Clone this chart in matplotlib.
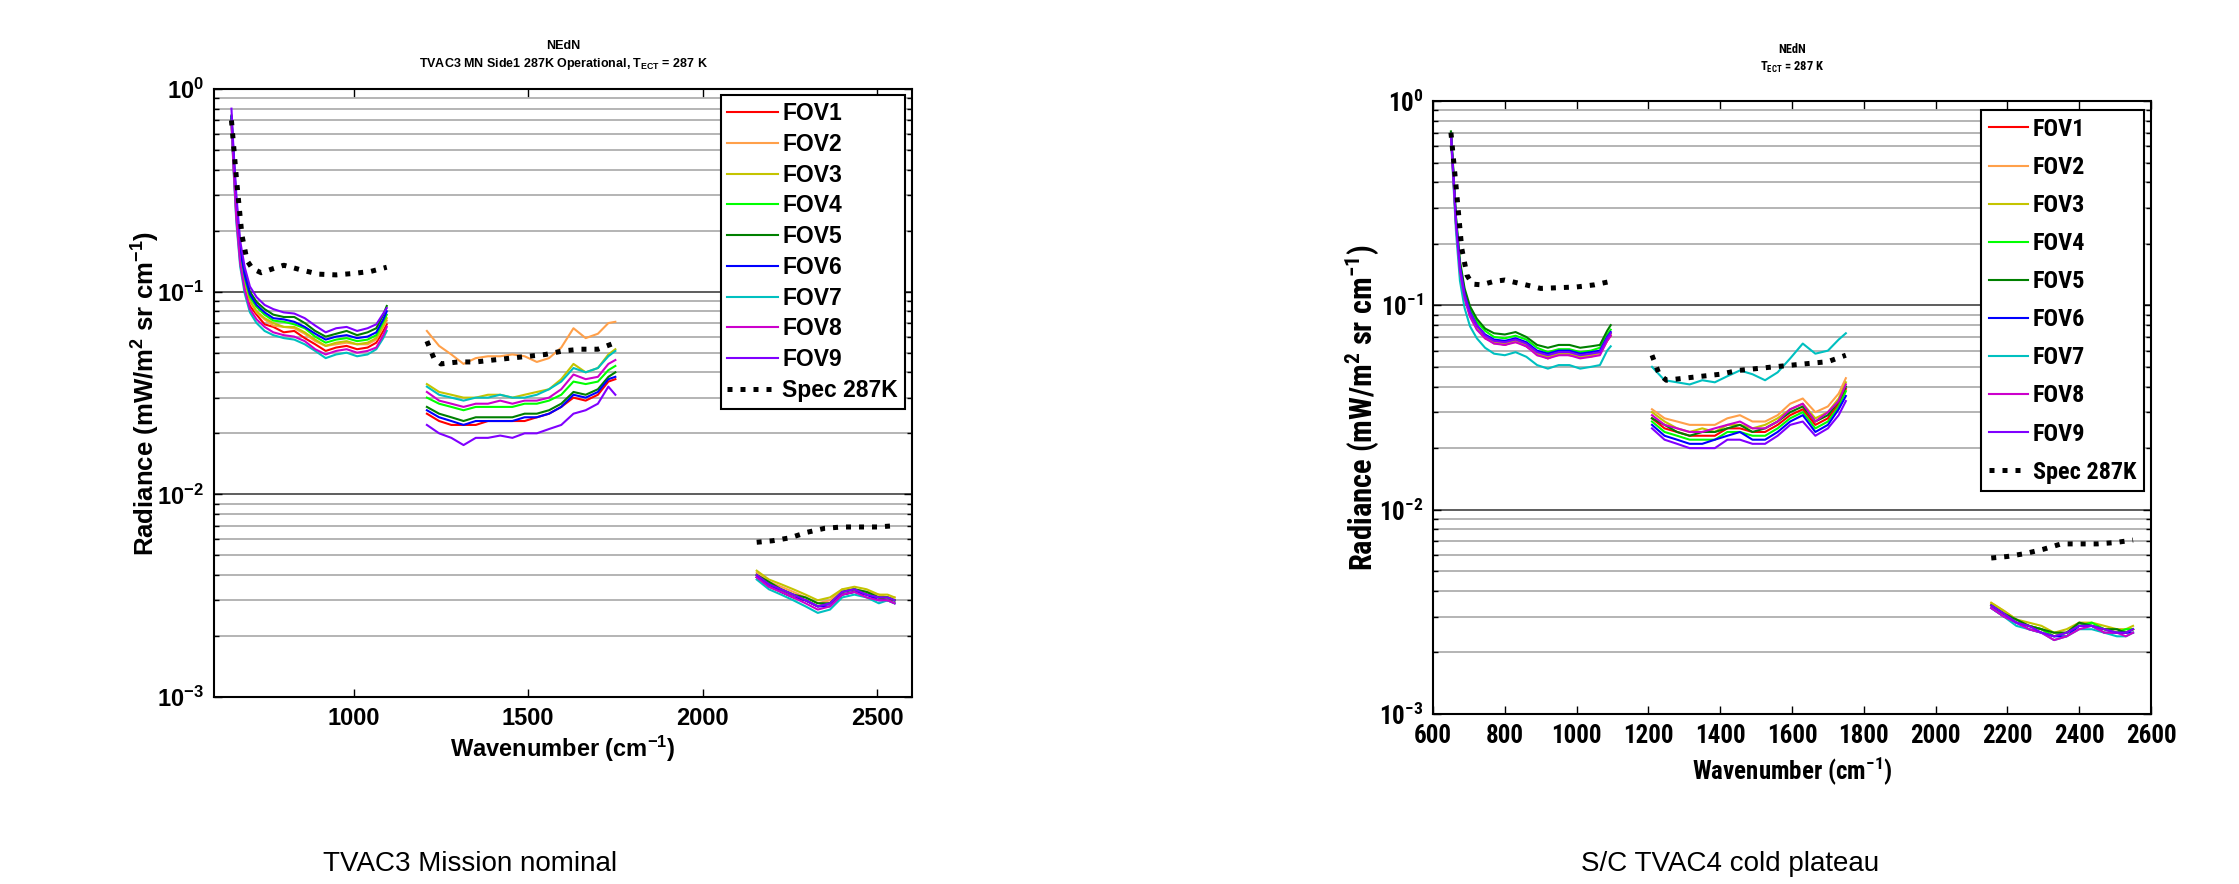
import numpy as np
import matplotlib
matplotlib.use('Agg')
import matplotlib.pyplot as plt
from matplotlib import font_manager as fm
from matplotlib.font_manager import FontProperties
from matplotlib.ticker import FixedLocator, FixedFormatter, NullFormatter, LogLocator

names = {f.name for f in fm.fontManager.ttflist}
WIDE = 'Liberation Sans' if 'Liberation Sans' in names else 'DejaVu Sans'


def find_condensed():
    prefs = ['Liberation Sans Narrow', 'Roboto Condensed', 'Open Sans Condensed',
             'DejaVu Sans Condensed', 'DejaVu Sans']
    best = None
    for f in fm.fontManager.ttflist:
        st = str(f.stretch)
        cond = ('Narrow' in f.name or 'Condensed' in f.name or 'condensed' in st)
        bold = (f.weight in ('bold', 'heavy', 'black') or
                (isinstance(f.weight, int) and f.weight >= 600))
        if cond and bold and f.style == 'normal':
            rank = prefs.index(f.name) if f.name in prefs else len(prefs)
            if best is None or rank < best[0]:
                best = (rank, f)
    return best[1] if best else None


COND = find_condensed()
plt.rcParams['mathtext.fontset'] = 'custom'
plt.rcParams['mathtext.rm'] = f'{WIDE}:bold'
plt.rcParams['mathtext.it'] = f'{WIDE}:bold'
plt.rcParams['mathtext.bf'] = f'{WIDE}:bold'
if COND is not None:
    try:
        st = str(COND.stretch)
        if st in ('normal', '500'):
            plt.rcParams['mathtext.sf'] = f'{COND.name}:bold'
        else:
            plt.rcParams['mathtext.sf'] = f'{COND.name}:bold:stretch={st}'
    except Exception:
        plt.rcParams['mathtext.sf'] = f'{WIDE}:bold'
else:
    plt.rcParams['mathtext.sf'] = f'{WIDE}:bold'


def fprop(narrow, size, weight='bold'):
    if narrow and COND is not None:
        return FontProperties(fname=COND.fname, size=size)
    return FontProperties(family=WIDE, weight=weight, size=size)


# ---------------- data ----------------
# wavenumber grids of the three bands (cm-1)
W1 = [650, 656, 664, 675, 688, 703, 722, 745, 770, 800, 830, 860, 890, 920, 950, 980, 1010, 1040, 1065, 1085, 1095]
W2 = [1210, 1245, 1280, 1315, 1350, 1385, 1420, 1455, 1490, 1525, 1560, 1595, 1630, 1665, 1700, 1730, 1750]
W3 = [2155, 2190, 2225, 2260, 2295, 2330, 2365, 2400, 2435, 2470, 2505, 2530, 2550]
# spec grids
SW1 = [650, 665, 680, 695, 710, 735, 770, 800, 850, 900, 950, 1000, 1050, 1095]
SW2 = [1210, 1230, 1250, 1300, 1350, 1400, 1450, 1500, 1550, 1600, 1650, 1700, 1750]
SW3 = [2155, 2200, 2250, 2300, 2350, 2400, 2450, 2500, 2550]

LABELS = ['FOV1', 'FOV2', 'FOV3', 'FOV4', 'FOV5', 'FOV6', 'FOV7', 'FOV8', 'FOV9', 'Spec 287K']
COLORS = ['#ff0000', '#ffa04a', '#c4c400', '#00ff00', '#008000', '#0000ff', '#00c0c0', '#cc00cc', '#8000ff']

# ---- left panel: TVAC3 Mission nominal ----
L_FOV1 = [0.70, 0.42, 0.24, 0.145, 0.106, 0.085, 0.077, 0.069, 0.067, 0.063, 0.064, 0.059, 0.055, 0.051, 0.053, 0.054, 0.052, 0.053, 0.056, 0.064, 0.069,
          0.025, 0.023, 0.022, 0.022, 0.022, 0.023, 0.023, 0.023, 0.023, 0.024, 0.025, 0.027, 0.030, 0.029, 0.031, 0.036, 0.037,
          0.0039, 0.0035, 0.0033, 0.0031, 0.0030, 0.0028, 0.0029, 0.0032, 0.0033, 0.0032, 0.0031, 0.0030, 0.0030]
L_FOV2 = [0.71, 0.44, 0.25, 0.150, 0.111, 0.090, 0.079, 0.073, 0.068, 0.067, 0.066, 0.062, 0.057, 0.054, 0.055, 0.056, 0.055, 0.055, 0.058, 0.067, 0.072,
          0.064, 0.054, 0.049, 0.044, 0.047, 0.048, 0.048, 0.049, 0.048, 0.045, 0.047, 0.053, 0.066, 0.059, 0.062, 0.070, 0.071,
          0.0041, 0.0037, 0.0035, 0.0033, 0.0031, 0.0029, 0.0030, 0.0034, 0.0034, 0.0033, 0.0032, 0.0031, 0.0031]
L_FOV3 = [0.71, 0.44, 0.26, 0.152, 0.113, 0.090, 0.080, 0.074, 0.070, 0.067, 0.067, 0.063, 0.058, 0.054, 0.056, 0.057, 0.055, 0.056, 0.059, 0.068, 0.074,
          0.035, 0.032, 0.031, 0.030, 0.030, 0.031, 0.031, 0.030, 0.031, 0.032, 0.033, 0.037, 0.044, 0.040, 0.042, 0.049, 0.052,
          0.0042, 0.0038, 0.0036, 0.0034, 0.0032, 0.0030, 0.0031, 0.0034, 0.0035, 0.0034, 0.0032, 0.0032, 0.0031]
L_FOV4 = [0.73, 0.46, 0.27, 0.158, 0.117, 0.094, 0.084, 0.077, 0.072, 0.071, 0.069, 0.066, 0.060, 0.056, 0.058, 0.059, 0.057, 0.058, 0.061, 0.071, 0.077,
          0.030, 0.028, 0.027, 0.026, 0.027, 0.027, 0.027, 0.027, 0.028, 0.028, 0.029, 0.031, 0.036, 0.035, 0.036, 0.041, 0.043,
          0.0040, 0.0036, 0.0034, 0.0032, 0.0030, 0.0028, 0.0029, 0.0033, 0.0034, 0.0032, 0.0031, 0.0031, 0.0030]
L_FOV5 = [0.74, 0.48, 0.28, 0.168, 0.125, 0.100, 0.089, 0.082, 0.077, 0.075, 0.075, 0.070, 0.064, 0.060, 0.062, 0.064, 0.061, 0.063, 0.066, 0.077, 0.085,
          0.027, 0.025, 0.024, 0.023, 0.024, 0.024, 0.024, 0.024, 0.025, 0.025, 0.026, 0.028, 0.032, 0.031, 0.033, 0.038, 0.040,
          0.0040, 0.0037, 0.0034, 0.0032, 0.0031, 0.0029, 0.0029, 0.0033, 0.0034, 0.0033, 0.0031, 0.0031, 0.0030]
L_FOV6 = [0.73, 0.47, 0.27, 0.163, 0.121, 0.097, 0.086, 0.079, 0.074, 0.073, 0.071, 0.067, 0.062, 0.058, 0.060, 0.061, 0.059, 0.060, 0.063, 0.073, 0.080,
          0.026, 0.024, 0.023, 0.022, 0.023, 0.023, 0.023, 0.023, 0.024, 0.024, 0.025, 0.027, 0.031, 0.030, 0.032, 0.037, 0.038,
          0.0039, 0.0036, 0.0033, 0.0031, 0.0030, 0.0028, 0.0028, 0.0032, 0.0033, 0.0032, 0.0030, 0.0030, 0.0029]
L_FOV7 = [0.68, 0.40, 0.22, 0.133, 0.098, 0.079, 0.070, 0.064, 0.061, 0.059, 0.058, 0.055, 0.051, 0.047, 0.049, 0.050, 0.048, 0.049, 0.052, 0.059, 0.064,
          0.034, 0.031, 0.030, 0.029, 0.030, 0.030, 0.031, 0.030, 0.030, 0.031, 0.033, 0.036, 0.042, 0.040, 0.042, 0.048, 0.051,
          0.0038, 0.0034, 0.0032, 0.0030, 0.0028, 0.0026, 0.0027, 0.0031, 0.0032, 0.0031, 0.0029, 0.0030, 0.0029]
L_FOV8 = [0.69, 0.41, 0.23, 0.138, 0.102, 0.082, 0.073, 0.067, 0.063, 0.061, 0.060, 0.057, 0.052, 0.049, 0.051, 0.052, 0.050, 0.051, 0.053, 0.061, 0.067,
          0.032, 0.029, 0.028, 0.027, 0.028, 0.028, 0.029, 0.028, 0.029, 0.029, 0.030, 0.033, 0.039, 0.037, 0.038, 0.044, 0.046,
          0.0039, 0.0035, 0.0033, 0.0031, 0.0029, 0.0027, 0.0028, 0.0032, 0.0033, 0.0031, 0.0030, 0.0030, 0.0029]
L_FOV9 = [0.80, 0.50, 0.30, 0.178, 0.132, 0.106, 0.094, 0.086, 0.082, 0.079, 0.078, 0.074, 0.068, 0.063, 0.066, 0.067, 0.064, 0.066, 0.069, 0.078, 0.083,
          0.022, 0.020, 0.019, 0.0175, 0.019, 0.019, 0.0195, 0.019, 0.020, 0.020, 0.021, 0.022, 0.025, 0.026, 0.028, 0.034, 0.031,
          0.0040, 0.0036, 0.0034, 0.0032, 0.0030, 0.0028, 0.0029, 0.0033, 0.0034, 0.0032, 0.0031, 0.0031, 0.0030]
L_SPEC = [0.70, 0.35, 0.19, 0.142, 0.130, 0.124, 0.130, 0.135, 0.128, 0.122, 0.121, 0.123, 0.126, 0.132,
          0.057, 0.047, 0.044, 0.045, 0.045, 0.046, 0.047, 0.048, 0.049, 0.051, 0.052, 0.052, 0.056,
          0.0058, 0.0059, 0.0061, 0.0065, 0.0068, 0.0069, 0.0069, 0.0069, 0.0070]

# ---- right panel: S/C TVAC4 cold plateau ----
R_FOV1 = [0.68, 0.45, 0.25, 0.150, 0.110, 0.089, 0.078, 0.069, 0.066, 0.064, 0.067, 0.063, 0.058, 0.055, 0.058, 0.057, 0.056, 0.057, 0.058, 0.067, 0.071,
          0.028, 0.025, 0.024, 0.023, 0.023, 0.023, 0.025, 0.025, 0.024, 0.024, 0.026, 0.029, 0.031, 0.026, 0.028, 0.033, 0.039,
          0.0034, 0.0031, 0.0028, 0.0027, 0.0026, 0.0024, 0.0025, 0.0027, 0.0027, 0.0026, 0.0025, 0.0025, 0.0026]
R_FOV2 = [0.68, 0.44, 0.25, 0.149, 0.110, 0.090, 0.077, 0.070, 0.065, 0.065, 0.066, 0.064, 0.057, 0.056, 0.057, 0.058, 0.056, 0.056, 0.058, 0.068, 0.072,
          0.031, 0.028, 0.027, 0.026, 0.026, 0.026, 0.028, 0.029, 0.027, 0.027, 0.029, 0.033, 0.035, 0.030, 0.032, 0.037, 0.044,
          0.0035, 0.0032, 0.0029, 0.0027, 0.0026, 0.0025, 0.0025, 0.0028, 0.0027, 0.0026, 0.0026, 0.0025, 0.0026]
R_FOV3 = [0.69, 0.45, 0.25, 0.151, 0.111, 0.090, 0.078, 0.070, 0.066, 0.065, 0.067, 0.064, 0.058, 0.056, 0.058, 0.058, 0.056, 0.057, 0.059, 0.068, 0.073,
          0.030, 0.027, 0.025, 0.024, 0.025, 0.024, 0.026, 0.026, 0.025, 0.026, 0.028, 0.031, 0.033, 0.028, 0.030, 0.035, 0.042,
          0.0035, 0.0032, 0.0029, 0.0028, 0.0027, 0.0025, 0.0026, 0.0028, 0.0028, 0.0027, 0.0026, 0.0026, 0.0027]
R_FOV4 = [0.70, 0.47, 0.27, 0.160, 0.117, 0.096, 0.083, 0.075, 0.070, 0.069, 0.071, 0.068, 0.062, 0.059, 0.061, 0.061, 0.059, 0.060, 0.062, 0.072, 0.076,
          0.027, 0.024, 0.023, 0.022, 0.022, 0.022, 0.024, 0.024, 0.023, 0.023, 0.025, 0.028, 0.030, 0.025, 0.027, 0.032, 0.038,
          0.0034, 0.0031, 0.0028, 0.0027, 0.0026, 0.0024, 0.0025, 0.0027, 0.0028, 0.0026, 0.0025, 0.0026, 0.0026]
R_FOV5 = [0.71, 0.48, 0.27, 0.165, 0.121, 0.099, 0.086, 0.077, 0.073, 0.072, 0.074, 0.070, 0.064, 0.062, 0.064, 0.064, 0.062, 0.063, 0.064, 0.075, 0.080,
          0.028, 0.026, 0.024, 0.023, 0.024, 0.024, 0.025, 0.026, 0.024, 0.025, 0.027, 0.030, 0.032, 0.027, 0.029, 0.034, 0.040,
          0.0034, 0.0031, 0.0029, 0.0027, 0.0026, 0.0025, 0.0025, 0.0028, 0.0027, 0.0026, 0.0026, 0.0025, 0.0026]
R_FOV6 = [0.69, 0.46, 0.26, 0.155, 0.113, 0.093, 0.080, 0.072, 0.068, 0.067, 0.069, 0.066, 0.060, 0.058, 0.060, 0.060, 0.058, 0.059, 0.060, 0.070, 0.074,
          0.026, 0.023, 0.022, 0.021, 0.021, 0.022, 0.023, 0.024, 0.022, 0.022, 0.024, 0.027, 0.029, 0.024, 0.026, 0.031, 0.036,
          0.0033, 0.0030, 0.0028, 0.0026, 0.0025, 0.0024, 0.0024, 0.0027, 0.0027, 0.0025, 0.0025, 0.0025, 0.0025]
R_FOV7 = [0.66, 0.42, 0.23, 0.132, 0.097, 0.079, 0.069, 0.062, 0.058, 0.057, 0.059, 0.056, 0.051, 0.049, 0.051, 0.051, 0.049, 0.050, 0.051, 0.060, 0.063,
          0.050, 0.043, 0.042, 0.041, 0.043, 0.042, 0.045, 0.048, 0.046, 0.043, 0.047, 0.055, 0.065, 0.058, 0.060, 0.068, 0.073,
          0.0033, 0.0030, 0.0027, 0.0026, 0.0025, 0.0023, 0.0024, 0.0026, 0.0026, 0.0025, 0.0024, 0.0024, 0.0025]
R_FOV8 = [0.68, 0.44, 0.25, 0.147, 0.108, 0.088, 0.076, 0.069, 0.065, 0.064, 0.066, 0.063, 0.057, 0.055, 0.057, 0.057, 0.055, 0.056, 0.057, 0.067, 0.071,
          0.029, 0.026, 0.025, 0.024, 0.024, 0.025, 0.026, 0.027, 0.025, 0.025, 0.027, 0.031, 0.033, 0.027, 0.030, 0.034, 0.041,
          0.0033, 0.0030, 0.0028, 0.0026, 0.0025, 0.0023, 0.0024, 0.0026, 0.0027, 0.0025, 0.0025, 0.0024, 0.0025]
R_FOV9 = [0.69, 0.46, 0.26, 0.153, 0.112, 0.092, 0.080, 0.071, 0.067, 0.066, 0.068, 0.065, 0.059, 0.057, 0.059, 0.059, 0.057, 0.058, 0.059, 0.069, 0.073,
          0.025, 0.022, 0.021, 0.020, 0.020, 0.020, 0.022, 0.022, 0.021, 0.021, 0.023, 0.026, 0.027, 0.023, 0.025, 0.029, 0.034,
          0.0034, 0.0031, 0.0028, 0.0027, 0.0025, 0.0024, 0.0025, 0.0027, 0.0027, 0.0026, 0.0025, 0.0025, 0.0026]
R_SPEC = [0.70, 0.37, 0.19, 0.140, 0.127, 0.126, 0.131, 0.133, 0.127, 0.121, 0.122, 0.123, 0.126, 0.131,
          0.057, 0.046, 0.043, 0.044, 0.045, 0.046, 0.048, 0.049, 0.050, 0.051, 0.052, 0.053, 0.057,
          0.0058, 0.0059, 0.0061, 0.0064, 0.0068, 0.0068, 0.0068, 0.0069, 0.0071]

LEFT_FOVS = [L_FOV1, L_FOV2, L_FOV3, L_FOV4, L_FOV5, L_FOV6, L_FOV7, L_FOV8, L_FOV9]
RIGHT_FOVS = [R_FOV1, R_FOV2, R_FOV3, R_FOV4, R_FOV5, R_FOV6, R_FOV7, R_FOV8, R_FOV9]

YTICKS = [1e-3, 1e-2, 1e-1, 1e0]
YEXP = ['-3', '-2', '-1', '0']
LEFT_XTICKS = [1000, 1500, 2000, 2500]
RIGHT_XTICKS = [600, 800, 1000, 1200, 1400, 1600, 1800, 2000, 2200, 2400, 2600]

# ---------------- figure ----------------
W_PX, H_PX, DPI = 2239, 884, 100
fig = plt.figure(figsize=(W_PX / DPI, H_PX / DPI), dpi=DPI)


def px_axes(x0, y0, x1, y1):
    return fig.add_axes([x0 / W_PX, 1 - y1 / H_PX, (x1 - x0) / W_PX, (y1 - y0) / H_PX])


def bands(vals, g1, g2, g3):
    n1, n2 = len(g1), len(g2)
    return [(g1, vals[:n1]), (g2, vals[n1:n1 + n2]), (g3, vals[n1 + n2:])]


def panel(ax, fovs, spec, narrow, xticks, title, xlabel, ylabel, tsize, xlsize, ylsize, legsize,
          leg_anchor, leg_kw, title_pad, xlpad, ylpad):
    handles = []
    for vals, col in zip(fovs, COLORS):
        h = None
        for g, v in bands(vals, W1, W2, W3):
            ln, = ax.plot(g, v, color=col, lw=1.5, zorder=3)
            h = h or ln
        handles.append(h)
    hs = None
    for g, v in bands(spec, SW1, SW2, SW3):
        ln, = ax.plot(g, v, color='black', lw=3.6, ls=(0, (1, 1.6)), dash_capstyle='butt', zorder=4)
        hs = hs or ln
    handles.append(hs)

    ax.set_yscale('log')
    ax.set_xlim(600, 2600)
    ax.set_ylim(1e-3, 1)
    ax.set_xticks(xticks)
    ax.set_xticklabels([str(t) for t in xticks])
    for t in ax.get_xticklabels():
        t.set_fontproperties(fprop(narrow, tsize))
    ax.yaxis.set_major_locator(FixedLocator(YTICKS))
    if narrow:
        ylabs = [r'$\mathsf{10^{%s}}$' % e for e in YEXP]
    else:
        ylabs = [r'$10^{%s}$' % e for e in YEXP]
    ax.yaxis.set_major_formatter(FixedFormatter(ylabs))
    ax.yaxis.set_minor_locator(LogLocator(base=10, subs=np.arange(2, 10)))
    ax.yaxis.set_minor_formatter(NullFormatter())
    for t in ax.get_yticklabels():
        t.set_fontsize(tsize)
    ax.set_axisbelow(True)
    ax.grid(True, which='major', axis='y', color='#505050', lw=1.3)
    ax.grid(True, which='minor', axis='y', color='#a8a8a8', lw=1.2)
    ax.grid(False, axis='x')
    ax.tick_params(which='both', direction='in', top=True, right=True, color='black')
    ax.tick_params(which='major', length=6, width=1.0, pad=7)
    ax.tick_params(which='minor', length=3.5, width=1.0)
    for s in ax.spines.values():
        s.set_linewidth(1.5)

    ax.set_xlabel(xlabel, fontproperties=fprop(narrow, xlsize), labelpad=xlpad)
    ax.set_ylabel(ylabel, fontproperties=fprop(narrow, ylsize), labelpad=ylpad)
    ax.set_title(title, fontproperties=fprop(narrow, 9), pad=title_pad, linespacing=1.3)

    leg = ax.legend(handles, LABELS, loc='upper right', bbox_to_anchor=leg_anchor, borderaxespad=0,
                    prop=fprop(narrow, legsize),
                    frameon=True, fancybox=False, edgecolor='black', framealpha=1, **leg_kw)
    leg.get_frame().set_linewidth(1.5)
    for lh in leg.get_lines()[:9]:
        lh.set_linewidth(1.5)
    return ax


axL = px_axes(214, 89, 912, 697)
panel(axL, LEFT_FOVS, L_SPEC, False, LEFT_XTICKS,
      'NEdN\nTVAC3 MN Side1 287K Operational, $T_{ECT}$ = 287 K',
      'Wavenumber (cm$^{-1}$)', 'Radiance (mW/m$^{2}$ sr cm$^{-1}$)',
      17, 17, 18.5, 16.5, (0.990, 0.990),
      dict(handlelength=2.2, handletextpad=0.2, labelspacing=0.34, borderpad=0.3), 16, 3, -3)

axR = px_axes(1433, 101, 2151, 714)
panel(axR, RIGHT_FOVS, R_SPEC, True, RIGHT_XTICKS,
      'NEdN\n$\\mathsf{T_{ECT}}$ = 287 K',
      'Wavenumber (cm$^{\\mathsf{-1}}$)', 'Radiance (mW/m$^{\\mathsf{2}}$ sr cm$^{\\mathsf{-1}}$)',
      18, 18, 22 if COND is not None else 18, 17.5 if COND is not None else 16.5, (0.990, 0.985),
      dict(handlelength=1.6, handletextpad=0.2, labelspacing=0.62, borderpad=0.32), 22, 5, -1)

fig.text(470 / W_PX, 1 - 864 / H_PX, 'TVAC3 Mission nominal', ha='center', va='center',
         fontfamily=WIDE, fontsize=20)
fig.text(1730 / W_PX, 1 - 864 / H_PX, 'S/C TVAC4 cold plateau', ha='center', va='center',
         fontfamily=WIDE, fontsize=20)

fig.savefig('out.png', dpi=DPI)
